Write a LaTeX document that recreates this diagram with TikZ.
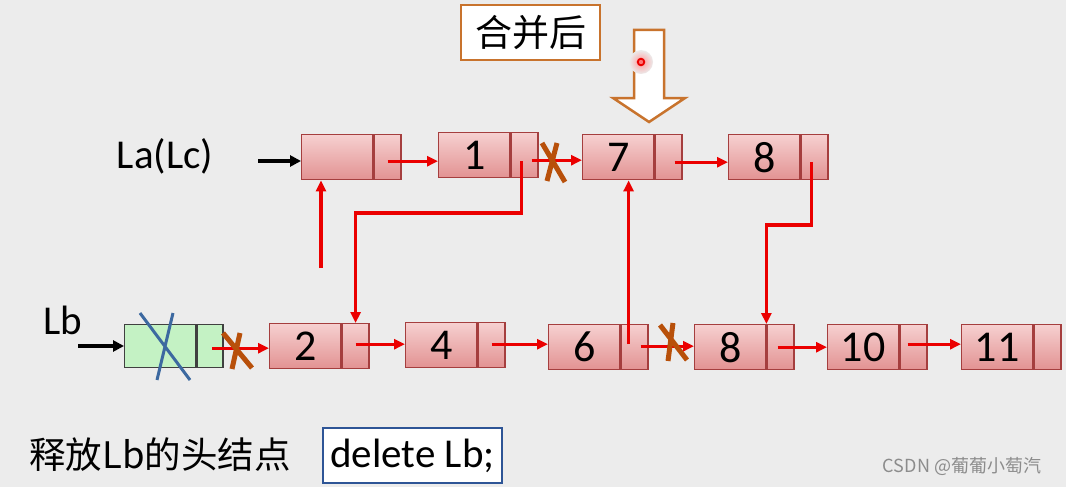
\documentclass[tikz,border=0pt]{standalone}
\usepackage{fontspec}
\setmainfont{Carlito}
\newfontfamily\cjk{Noto Sans CJK SC}
\usetikzlibrary{arrows.meta}
\definecolor{bgc}{RGB}{236,236,236}
\definecolor{nodetop}{RGB}{246,208,208}
\definecolor{nodebot}{RGB}{226,146,146}
\definecolor{nodeborder}{RGB}{165,62,62}
\definecolor{greenfill}{RGB}{196,242,196}
\definecolor{redline}{RGB}{235,0,0}
\definecolor{xcol}{RGB}{184,80,10}
\definecolor{strike}{RGB}{60,105,160}
\definecolor{orangeb}{RGB}{200,115,45}
\definecolor{blueb}{RGB}{46,85,150}
\tikzset{
  datapart/.style={draw=nodeborder, line width=1.4pt, top color=nodetop, bottom color=nodebot,
    minimum width=71pt, minimum height=45pt, inner sep=0pt, anchor=north west,
    font=\fontsize{44}{44}\selectfont},
  ptrpart/.style={datapart, minimum width=27pt},
  greendata/.style={draw=black!75, line width=1.4pt, fill=greenfill,
    minimum width=71pt, minimum height=43pt, inner sep=0pt, anchor=north west},
  greenptr/.style={greendata, minimum width=26pt},
  redarr/.style={draw=redline, line width=3.2pt, -{Triangle[length=11pt,width=10pt]}},
  blackarr/.style={draw=black, line width=3.4pt, -{Triangle[length=11pt,width=11pt]}},
  crossline/.style={draw=xcol, line width=5pt},
  label/.style={font=\fontsize{41}{41}\selectfont, inner sep=0pt}
}
\begin{document}
\begin{tikzpicture}[x=1pt,y=-1pt]
\fill[bgc] (0,0) rectangle (1066,487);
\useasboundingbox (0,0) rectangle (1066,487);

% title box and hollow arrow
\node[draw=orangeb, line width=2.5pt, fill=white, minimum width=139pt, minimum height=55pt,
  inner sep=0pt, font=\cjk\fontsize{37}{37}\selectfont] (title) at (530.5,32.5) {合并后};
\filldraw[draw=orangeb, fill=white, line width=2.5pt, line join=miter]
  (634,30) -- (664,30) -- (664,98) -- (685,98) -- (649,122) -- (613,98) -- (634,98) -- cycle;
\shade[inner color=red!40, outer color=bgc] (641,62) circle (12);
\draw[draw=redline, line width=1.8pt, fill=red!55] (641,62) circle (3.3);

% top row
\node[label, anchor=center] (lalab) at (165,156) {La(Lc)};
\node[datapart] (ah) at (301,134) {};
\node[ptrpart] (ahp) at (ah.north east) {};
\node[datapart] (a1) at (438,132) {1};
\node[ptrpart] (a1p) at (a1.north east) {};
\node[datapart] (a7) at (582,134) {7};
\node[ptrpart] (a7p) at (a7.north east) {};
\node[datapart] (a8) at (728,134) {8};
\node[ptrpart] (a8p) at (a8.north east) {};

% bottom row
\node[label, anchor=center] (lblab) at (63,320) {Lb};
\node[greendata] (bh) at (124,324) {};
\node[greenptr] (bhp) at (bh.north east) {};
\node[datapart] (b2) at (269,323) {2};
\node[ptrpart] (b2p) at (b2.north east) {};
\node[datapart] (b4) at (405,322) {4};
\node[ptrpart] (b4p) at (b4.north east) {};
\node[datapart] (b6) at (548,324) {6};
\node[ptrpart] (b6p) at (b6.north east) {};
\node[datapart] (b8) at (694,324) {8};
\node[ptrpart] (b8p) at (b8.north east) {};
\node[datapart] (b10) at (827,324) {10};
\node[ptrpart] (b10p) at (b10.north east) {};
\node[datapart] (b11) at (961,324) {11};
\node[ptrpart] (b11p) at (b11.north east) {};

% black head arrows
\coordinate (lastart) at (258,161);
\coordinate (lbstart) at (78,346);
\draw[blackarr] (lastart) -- (lastart -| ah.west);
\draw[blackarr] (lbstart) -- (lbstart -| bh.west);

% top row links
\coordinate (s0) at ([xshift=0pt,yshift=-4pt]ahp.center);
\draw[redarr] (s0) -- (s0 -| a1.west);
\coordinate (s1) at ([xshift=7pt,yshift=-5pt]a1p.center);
\draw[redarr] (s1) -- (s1 -| a7.west);
\coordinate (s7) at ([xshift=6pt,yshift=-5pt]a7p.center);
\draw[redarr] (s7) -- (s7 -| a8.west);

% bottom row links
\coordinate (sh) at ([xshift=2pt,yshift=-2pt]bhp.center);
\draw[redarr] (sh) -- (sh -| b2.west);
\coordinate (s2) at ([xshift=0pt,yshift=2pt]b2p.center);
\draw[redarr] (s2) -- (s2 -| b4.west);
\coordinate (s4) at ([xshift=0pt,yshift=1pt]b4p.center);
\draw[redarr] (s4) -- (s4 -| b6.west);
\coordinate (s6) at ([xshift=6pt,yshift=1pt]b6p.center);
\draw[redarr] (s6) -- (s6 -| b8.west);
\coordinate (s8) at ([xshift=-3pt,yshift=0pt]b8p.center);
\draw[redarr] (s8) -- (s8 -| b10.west);
\coordinate (s10) at ([xshift=-6pt,yshift=3pt]b10p.center);
\draw[redarr] (s10) -- (s10 -| b11.west);

% vertical / bent links
\coordinate (u1) at (321,268);
\draw[redarr] (u1) -- (u1 |- ah.south);
\coordinate (v1) at ([xshift=-3pt,yshift=-6pt]a1p.center);
\coordinate (k1) at (520,213);
\draw[redarr] (v1) -- (v1 |- k1) -| (b2p.north);
\coordinate (v6) at ([xshift=-6pt,yshift=3pt]b6p.center);
\draw[redarr] (v6) -- (v6 |- a7.south);
\coordinate (v8) at ([xshift=-3pt,yshift=-5pt]a8p.center);
\coordinate (k8) at (811,225);
\draw[redarr] (v8) -- (v8 |- k8) -| (b8.north east);

% crosses
\draw[crossline] (542,143) -- (565,182) (557,143) -- (547,181);
\draw[crossline] (660,325) -- (687,360) (673,323) -- (668,361);
\draw[crossline] (223,333) -- (252,368) (240,333) -- (232,369);
\draw[draw=strike, line width=3pt] (140,313) -- (190,380) (173,313) -- (157,380);

% bottom texts
\node[anchor=west, inner sep=0pt, font=\cjk\fontsize{36.5}{36.5}\selectfont] (release) at (29,455) {释放Lb的头结点};
\node[draw=blueb, line width=2.5pt, fill=white, minimum width=179pt, minimum height=55pt,
  inner sep=0pt, font=\fontsize{41}{41}\selectfont] (del) at (412.5,455.5) {delete Lb;};
\node[anchor=center, inner sep=0pt, text=black!45, font=\cjk\fontsize{18}{18}\selectfont] (wm) at (962,466) {CSDN @葡葡小萄汽};
\end{tikzpicture}
\end{document}
